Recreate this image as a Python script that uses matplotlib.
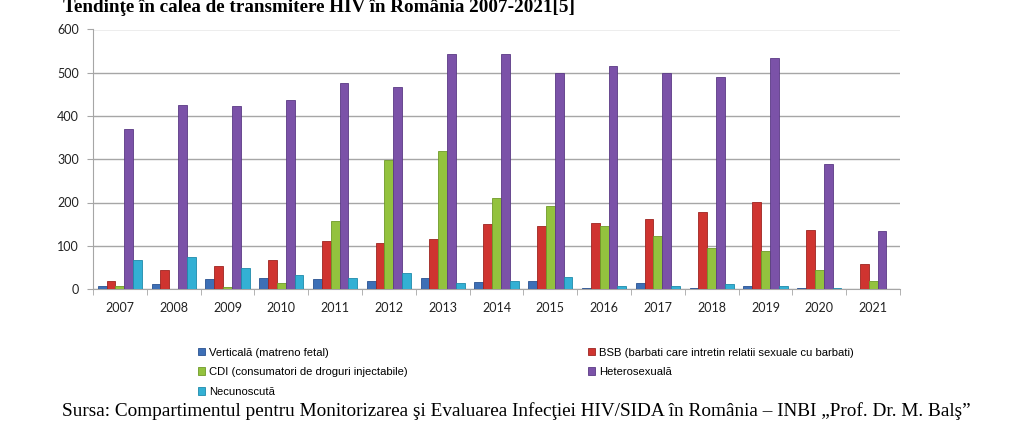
import matplotlib
matplotlib.use("Agg")
import matplotlib.pyplot as plt
import numpy as np

years = ["2007", "2008", "2009", "2010", "2011", "2012", "2013", "2014",
         "2015", "2016", "2017", "2018", "2019", "2020", "2021"]
verticala = [6, 12, 22, 25, 22, 19, 25, 16, 18, 3, 14, 3, 8, 3, 1]
bsb = [19, 43, 53, 68, 110, 106, 116, 151, 146, 152, 162, 178, 202, 136, 57]
cdi = [6, 0, 5, 15, 157, 299, 319, 211, 192, 146, 123, 94, 88, 44, 18]
hetero = [371, 426, 423, 436, 476, 466, 543, 543, 500, 516, 500, 490, 533, 290, 135]
necunoscuta = [68, 74, 49, 33, 25, 38, 14, 19, 28, 7, 7, 12, 8, 2, 1]

labels = ["Verticală (matreno fetal)",
          "BSB (barbati care intretin relatii sexuale cu barbati)",
          "CDI (consumatori de droguri injectabile)",
          "Heterosexuală",
          "Necunoscută"]
colors = ["#3d6fb6", "#cf3430", "#93c23e", "#7b52a8", "#33b0d4"]
edges = ["#2a5290", "#9e2420", "#6f9a28", "#5a3a85", "#1f8aaa"]

series = [verticala, bsb, cdi, hetero, necunoscuta]
grid_col = "#a6a6a6"
tick_fnt = 9

fig = plt.figure(figsize=(10.24, 4.34), dpi=100)
ax = fig.add_axes([93 / 1024, 1 - 289 / 434, 807 / 1024, 259.5 / 434])

x = np.arange(len(years))
bw = 0.165
bars = []
for i, (vals, c, e) in enumerate(zip(series, colors, edges)):
    b = ax.bar(x + (i - 2) * bw, vals, width=bw, color=c, edgecolor=e,
               linewidth=0.6, zorder=3, label=labels[i])
    bars.append(b)

ax.set_xlim(-0.5, len(years) - 0.5)
ax.set_ylim(0, 600)
ax.set_yticks(np.arange(0, 601, 100))
ax.set_xticks(x)
ax.set_xticklabels(years)
ax.set_xticks(np.arange(-0.5, len(years), 1), minor=True)
ax.tick_params(axis="x", which="major", length=0, pad=9, labelsize=tick_fnt, colors="#222222")
ax.tick_params(axis="x", which="minor", length=4, color=grid_col, direction="out")
ax.tick_params(axis="y", length=4, color=grid_col, labelsize=tick_fnt, pad=6, colors="#222222")
for lab in ax.get_xticklabels() + ax.get_yticklabels():
    lab.set_family("Lato")
ax.yaxis.grid(True, color=grid_col, linewidth=1.0, zorder=0)
ax.set_axisbelow(True)
for s in ["top", "right"]:
    ax.spines[s].set_visible(False)
ax.spines["left"].set_color(grid_col)
ax.spines["bottom"].set_color(grid_col)

fig.text(318.5 / 1024, 1 - 8 / 434, "Tendinţe în calea de transmitere HIV în România 2007-2021[5]",
         ha="center", va="center", fontsize=13.8, fontweight="bold", family="Liberation Serif")

leg_kw = dict(frameon=False, handlelength=0.65, handleheight=0.65, handletextpad=0.35,
              labelspacing=0.85, borderpad=0, prop={"family": "Liberation Sans", "size": 8.1})
leg1 = fig.legend([bars[0], bars[2], bars[4]], [labels[0], labels[2], labels[4]],
                  loc="upper left", bbox_to_anchor=(192 / 1024, 1 - 342 / 434), **leg_kw)
leg2 = fig.legend([bars[1], bars[3]], [labels[1], labels[3]],
                  loc="upper left", bbox_to_anchor=(582 / 1024, 1 - 342 / 434), **leg_kw)

fig.text(62 / 1024, 1 - 411 / 434,
         "Sursa: Compartimentul pentru Monitorizarea şi Evaluarea Infecţiei HIV/SIDA în România – INBI „Prof. Dr. M. Balş”",
         ha="left", va="center", fontsize=13.9, family="Liberation Serif")

fig.savefig("out.png", dpi=100)
plt.close(fig)
